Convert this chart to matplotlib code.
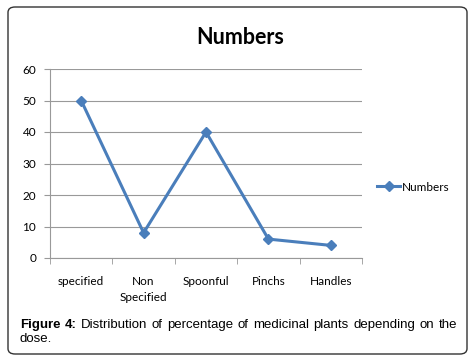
import matplotlib.pyplot as plt
from matplotlib.patches import FancyBboxPatch

#------------ Data ------------#
categories = ["specified", "Non\nSpecified", "Spoonful", "Pinchs", "Handles"]
numbers = [50, 8, 40, 6, 4]
yticks = [0, 10, 20, 30, 40, 50, 60]

LINE_COLOR = "#4a7ebb"
FONT = "Lato"
W, H = 476, 360

fig = plt.figure(figsize=(W / 100, H / 100), dpi=100)

# rounded frame round the whole figure
frame = FancyBboxPatch((8 / W, 6 / H), 459 / W, 347 / H,
                       boxstyle="round,pad=0,rounding_size=0.015",
                       transform=fig.transFigure, fill=False,
                       edgecolor="#333333", linewidth=1.0)
fig.patches.append(frame)

#------------ Axes ------------#
ax = fig.add_axes([50 / W, 1 - 258 / H, 312 / W, 189 / H])
x = range(len(categories))
ax.plot(x, numbers, color=LINE_COLOR, linewidth=2.2, marker="D",
        markersize=5.5, label="Numbers", zorder=3)

ax.set_xlim(-0.5, len(categories) - 0.5)
ax.set_ylim(0, 60)
ax.set_yticks(yticks)
ax.set_yticklabels([str(v) for v in yticks], fontname=FONT, fontsize=8.5)
ax.yaxis.grid(True, color="#999999", linewidth=0.8)
ax.set_axisbelow(True)

ax.set_xticks(list(x))
ax.set_xticklabels(categories, fontname=FONT, fontsize=8.5, linespacing=1.5)
ax.tick_params(axis="x", length=0, pad=13)
ax.set_xticks([i - 0.5 for i in range(len(categories) + 1)], minor=True)
ax.tick_params(axis="x", which="minor", length=4, color="#999999")
ax.tick_params(axis="y", length=4, color="#999999", pad=6)

for side in ["top", "right"]:
    ax.spines[side].set_visible(False)
ax.spines["left"].set_color("#999999")
ax.spines["bottom"].set_color("#999999")

fig.text(240 / W, 1 - 37 / H, "Numbers", fontname=FONT, fontsize=15.5,
         fontweight="bold", ha="center", va="center")

ax.legend(loc="center left", bbox_to_anchor=(372 / W, 1 - 187 / H),
          bbox_transform=fig.transFigure, frameon=False,
          prop={"family": FONT, "size": 8.5}, handlelength=2.0,
          handletextpad=0.1, borderaxespad=0)

#------------ Caption (justified) ------------#
cap_words = [("Figure", True), ("4:", True), ("Distribution", False),
             ("of", False), ("percentage", False), ("of", False),
             ("medicinal", False), ("plants", False), ("depending", False),
             ("on", False), ("the", False)]
left, right = 20, 457
y1 = 1 - 325 / H
renderer = fig.canvas.get_renderer()
texts = []
for w, b in cap_words:
    t = fig.text(0, y1, w, fontname="Liberation Sans", fontsize=9.5,
                 fontweight="bold" if b else "normal", va="center")
    texts.append(t)
widths = [t.get_window_extent(renderer).width for t in texts]
gap = (right - left - sum(widths)) / (len(texts) - 1)
pos = left
for t, wd in zip(texts, widths):
    t.set_x(pos / W)
    pos += wd + gap
fig.text(left / W, 1 - 339 / H, "dose.", fontname="Liberation Sans",
         fontsize=9.5, va="center")

fig.savefig("out.png", dpi=100)
